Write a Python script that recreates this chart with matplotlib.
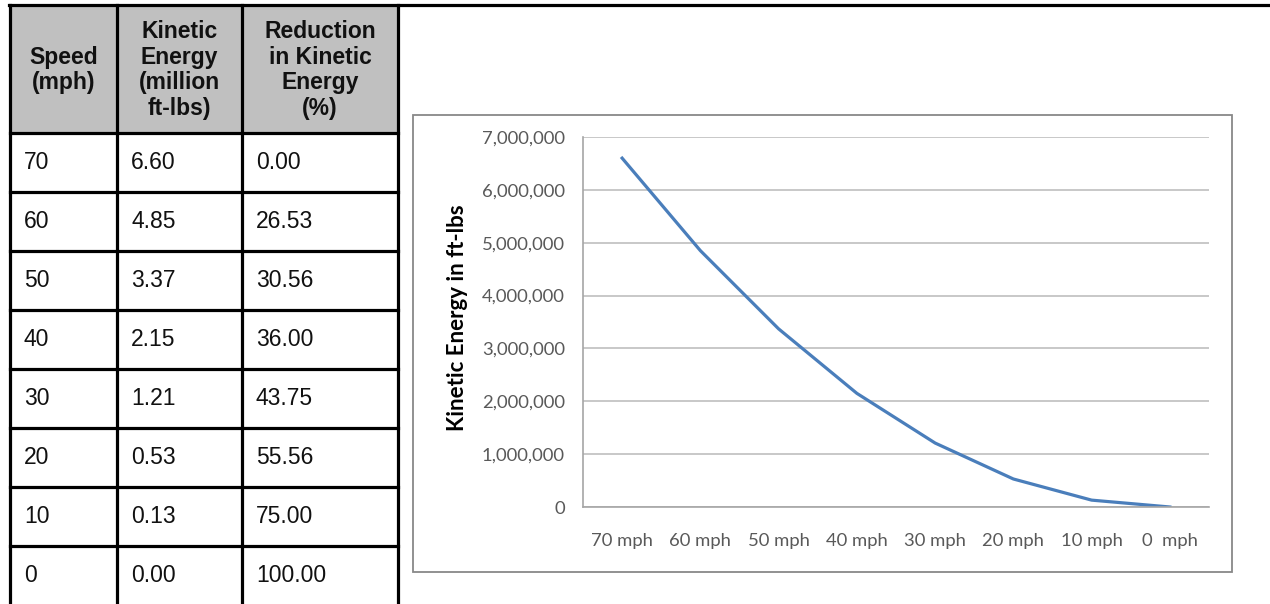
import matplotlib.pyplot as plt
from matplotlib.patches import Rectangle
from matplotlib.ticker import FuncFormatter

# table data
headers = ['Speed\n(mph)', 'Kinetic\nEnergy\n(million\nft-lbs)', 'Reduction\nin Kinetic\nEnergy\n(%)']
speeds = ['70', '60', '50', '40', '30', '20', '10', '0']
energy_million = ['6.60', '4.85', '3.37', '2.15', '1.21', '0.53', '0.13', '0.00']
reduction = ['0.00', '26.53', '30.56', '36.00', '43.75', '55.56', '75.00', '100.00']

# chart data
x_labels = ['70 mph', '60 mph', '50 mph', '40 mph', '30 mph', '20 mph', '10 mph', '0  mph']
energy = [6600000, 4850000, 3370000, 2150000, 1210000, 530000, 130000, 0]

W, H = 1270, 604
fig = plt.figure(figsize=(W / 100, H / 100), dpi=100)

# pixel-space overlay for the table and the chart frame
bg = fig.add_axes([0, 0, 1, 1])
bg.set_xlim(0, W)
bg.set_ylim(H, 0)
bg.axis('off')

col_x = [10, 117, 242, 398]
head_top, head_bot = 5, 133
row_h = 59

bg.add_patch(Rectangle((col_x[0], head_top), col_x[-1] - col_x[0], head_bot - head_top,
                       facecolor='#c0c0c0', edgecolor='none'))
bg.plot([col_x[0] - 1, W], [head_top, head_top], color='black', lw=2.3)
for cx in col_x:
    bg.plot([cx, cx], [head_top, H], color='black', lw=2.3)
for i in range(len(speeds)):
    y = head_bot + i * row_h
    bg.plot([col_x[0], col_x[-1]], [y, y], color='black', lw=2.3)

tfont = 'Liberation Sans'
for j, h in enumerate(headers):
    bg.text((col_x[j] + col_x[j + 1]) / 2, (head_top + head_bot) / 2 + 1, h,
            ha='center', va='center', fontsize=16.5, fontweight='bold',
            family=tfont, linespacing=1.13, color='#111111')

for j, col in enumerate([speeds, energy_million, reduction]):
    for i, v in enumerate(col):
        bg.text(col_x[j] + 14, head_bot + (i + 0.5) * row_h, v,
                ha='left', va='center', fontsize=16.5, family=tfont, color='#111111')

bg.add_patch(Rectangle((413, 115), 819, 457, fill=False, edgecolor='#888888', lw=1.3))

# line chart
ax = fig.add_axes([583 / W, (H - 507) / H, 626 / W, 370 / H])
ax.plot(range(len(energy)), energy, color='#4a7ebb', lw=2.3, solid_joinstyle='round')
ax.set_xlim(-0.5, len(energy) - 0.5)
ax.set_ylim(0, 7000000)
ax.set_yticks(range(0, 7000001, 1000000))
ax.yaxis.set_major_formatter(FuncFormatter(lambda v, p: f'{int(v):,}'))
ax.set_xticks(range(len(x_labels)))
ax.set_xticklabels(x_labels)
ax.grid(axis='y', color='#c8c8c8', lw=1.4)
ax.set_axisbelow(True)
for s in ['top', 'right']:
    ax.spines[s].set_visible(False)
ax.spines['left'].set_color('#a6a6a6')
ax.spines['bottom'].set_color('#a6a6a6')
ax.spines['left'].set_linewidth(1.2)
ax.spines['bottom'].set_linewidth(1.2)
ax.tick_params(length=0, labelcolor='#595959', labelsize=13.3)
ax.tick_params(axis='y', pad=13)
ax.tick_params(axis='x', pad=19)
for lbl in ax.get_xticklabels() + ax.get_yticklabels():
    lbl.set_family('Lato')

fig.text(457 / W, 1 - 318 / H, 'Kinetic Energy in ft-lbs', rotation=90,
         ha='center', va='center', fontsize=16, fontweight='bold', family='Lato')

plt.savefig('out.png', dpi=100)
